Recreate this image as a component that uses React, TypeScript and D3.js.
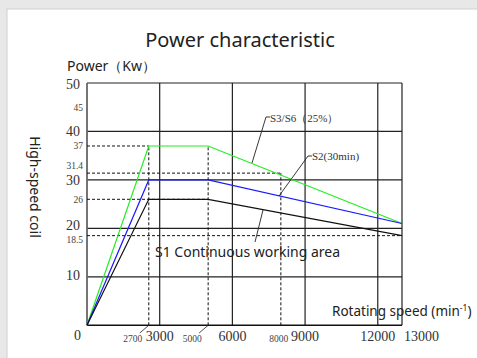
import React from "react";
import * as d3 from "d3";

const speeds = [0, 2550, 5000, 13000];
const s3Power = [0, 37, 37, 21];
const s2Power = [0, 30, 30, 21];
const s1Power = [0, 26, 26, 18.5];

const gridY = [10, 20, 30, 40, 50];
const gridX = [3000, 6000, 9000, 12000, 13000];
const majorYLabels = [10, 20, 30, 40, 50];
const minorYLabels = ["45", "37", "31.4", "26", "18.5"];
const minorYValues = [45, 37, 31.4, 26, 18.5];
const majorXLabels = ["3000", "6000", "9000", "12000"];
const majorXValues = [3000, 6000, 9000, 12000];
const minorXLabels = ["2700", "5000", "8000"];
const minorXValues = [2550, 5000, 8000];

const dashH = [
  { p: 37, to: 2550 },
  { p: 31.4, to: 8000 },
  { p: 26, to: 5000 },
  { p: 18.5, to: 13000 },
];
const dashV = [
  { s: 2550, to: 37 },
  { s: 5000, to: 37 },
  { s: 8000, to: 31.4 },
];

const W = 477, H = 358;
const x = d3.scaleLinear().domain([0, 13000]).range([87, 402]);
const y = d3.scaleLinear().domain([0, 50]).range([325.3, 83]);

const serif = "'Liberation Serif', 'DejaVu Serif', serif";
const sans = "'Noto Sans', 'Open Sans', sans-serif";

const majorOffset = (v: number) => (v === 50 ? 6 : v === 20 ? 2 : v === 10 ? 3 : 5);
const minorOffset = (t: string) => (t === "31.4" ? -4 : t === "18.5" ? 7.5 : 3.5);

export default function App() {
  const line = d3
    .line<number>()
    .x((_, i) => x(speeds[i]))
    .y((d) => y(d));
  const series = [
    { v: s3Power, c: "#22ee22" },
    { v: s2Power, c: "#1a1aff" },
    { v: s1Power, c: "#111" },
  ];
  return (
    <svg width={W} height={H} style={{ position: "absolute", left: 0, top: 0 }}>
      <rect x={0} y={0} width={W} height={H} fill="#e8e8e8" />
      <rect x={7} y={9} width={W} height={H} fill="#fff" stroke="#cfcfcf" strokeWidth={1} />
      <text x={240} y={47} textAnchor="middle" fontFamily={sans} fontSize={20} fill="#222">
        Power characteristic
      </text>
      <text x={67} y={71} fontFamily={sans} fontSize={14} fill="#222">
        Power（Kw）
      </text>
      <text
        transform={`translate(30,187) rotate(90)`}
        textAnchor="middle"
        fontFamily={sans}
        fontSize={14}
        fill="#222"
      >
        High-speed coil
      </text>

      {/* grid */}
      {gridY.map((g) => (
        <line key={"gy" + g} x1={x(0)} x2={x(13000)} y1={y(g)} y2={y(g)} stroke="#222" strokeWidth={1.2} />
      ))}
      {gridX.map((g) => (
        <line key={"gx" + g} x1={x(g)} x2={x(g)} y1={y(0)} y2={y(50)} stroke="#222" strokeWidth={1.2} />
      ))}
      <line x1={x(0)} x2={x(13000)} y1={y(0)} y2={y(0)} stroke="#111" strokeWidth={1.5} />
      <line x1={x(0)} x2={x(0)} y1={y(0)} y2={y(50)} stroke="#666" strokeWidth={1.8} />

      {/* dashed refs */}
      {dashH.map((d) => (
        <line key={"dh" + d.p} x1={x(0)} x2={x(d.to)} y1={y(d.p)} y2={y(d.p)} stroke="#111" strokeWidth={1} strokeDasharray="3,2" />
      ))}
      {dashV.map((d) => (
        <line key={"dv" + d.s} x1={x(d.s)} x2={x(d.s)} y1={y(0)} y2={y(d.to)} stroke="#111" strokeWidth={1} strokeDasharray="3,2" />
      ))}

      {/* series */}
      {series.map((s, i) => (
        <path key={"s" + i} d={line(s.v) || ""} fill="none" stroke={s.c} strokeWidth={1.2} />
      ))}

      {/* y labels */}
      {majorYLabels.map((v) => (
        <text key={"yl" + v} x={80} y={y(v) + majorOffset(v)} textAnchor="end" fontFamily={serif} fontSize={14} fill="#333">
          {v}
        </text>
      ))}
      <text x={81} y={340} textAnchor="end" fontFamily={serif} fontSize={14} fill="#333">0</text>
      {minorYLabels.map((t, i) => (
        <text
          key={"ym" + t}
          x={83}
          y={y(minorYValues[i]) + minorOffset(t)}
          textAnchor="end"
          fontFamily={serif}
          fontSize={9.5}
          fill="#444"
        >
          {t}
        </text>
      ))}

      {/* x labels */}
      {majorXLabels.map((t, i) => (
        <text key={"xl" + t} x={x(majorXValues[i])} y={341} textAnchor="middle" fontFamily={serif} fontSize={14} fill="#333">
          {t}
        </text>
      ))}
      <text x={x(13000) + 2} y={341} textAnchor="start" fontFamily={serif} fontSize={14} fill="#333">13000</text>
      {minorXLabels.map((t, i) => {
        const px = x(minorXValues[i]);
        const lx = t === "8000" ? px - 2 : px - 16;
        return (
          <g key={"xm" + t}>
            {t !== "8000" && (
              <line x1={px} y1={y(0)} x2={px - 9} y2={333} stroke="#222" strokeWidth={0.8} />
            )}
            <text x={lx} y={342} textAnchor="middle" fontFamily={serif} fontSize={9.5} fill="#444">
              {t}
            </text>
          </g>
        );
      })}

      {/* annotations */}
      <path d="M252,163 L266,117 L270,117" fill="none" stroke="#222" strokeWidth={0.9} />
      <text x={270} y={122} fontFamily={serif} fontSize={11} fill="#333">S3/S6（25%）</text>
      <path d="M279,196 L308,156 L312,156" fill="none" stroke="#222" strokeWidth={0.9} />
      <text x={312} y={160} fontFamily={serif} fontSize={11} fill="#333">S2(30min)</text>
      <line x1={263} y1={210} x2={255} y2={242} stroke="#222" strokeWidth={0.9} />
      <text x={155} y={257} fontFamily={sans} fontSize={14} fill="#222">S1 Continuous working area</text>

      <text x={332} y={316} fontFamily={sans} fontSize={13.5} fill="#222">
        Rotating speed (min<tspan dy={-5} fontSize={8.5}>-1</tspan>
        <tspan dy={5}>)</tspan>
      </text>
    </svg>
  );
}
